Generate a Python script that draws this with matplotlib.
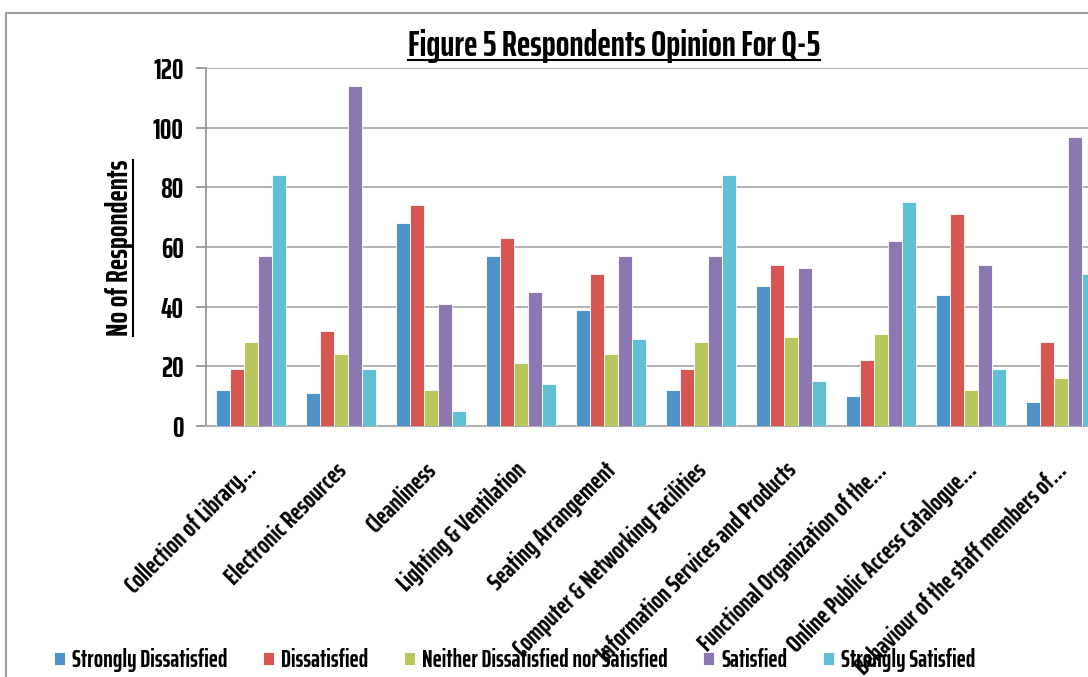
import numpy as np
import matplotlib.pyplot as plt
from matplotlib.patches import Rectangle
from matplotlib.lines import Line2D

plt.rcParams['font.family'] = ['Saira ExtraCondensed', 'DejaVu Sans']
plt.rcParams['font.weight'] = 'bold'

categories = ['Collection of Library...', 'Electronic Resources', 'Cleanliness',
              'Lighting & Ventilation', 'Seating Arrangement',
              'Computer & Networking Facilities', 'Information Services and Products',
              'Functional Organization of the...', 'Online Public Access Catalogue...',
              'Behaviour of the staff members of...']
series_names = ['Strongly Dissatisfied', 'Dissatisfied', 'Neither Dissatisfied nor Satisfied',
                'Satisfied', 'Strongly Satisfied']
strongly_dissatisfied = [12, 11, 68, 57, 39, 12, 47, 10, 44, 8]
dissatisfied = [19, 32, 74, 63, 51, 19, 54, 22, 71, 28]
neither = [28, 24, 12, 21, 24, 28, 30, 31, 12, 16]
satisfied = [57, 114, 41, 45, 57, 57, 53, 62, 54, 97]
strongly_satisfied = [84, 19, 5, 14, 29, 84, 15, 75, 19, 51]
yticks = [0, 20, 40, 60, 80, 100, 120]

colors = ['#4E94C8', '#D85652', '#B8C65C', '#8C78B0', '#60C0D4']
series = [strongly_dissatisfied, dissatisfied, neither, satisfied, strongly_satisfied]

W, H = 1088, 677
fig = plt.figure(figsize=(W / 100, H / 100), dpi=100)

# outer chart border (Excel chart area)
fig.add_artist(Rectangle((6 / W, -0.1), 1.2, 1 - 13 / H + 0.1, transform=fig.transFigure,
                         fill=False, edgecolor='#A0A0A0', linewidth=1.5))

left, right = 206, 1106
top, bottom = 68, 426
ax = fig.add_axes([left / W, 1 - bottom / H, (right - left) / W, (bottom - top) / H])

x = np.arange(len(categories))
bw = 0.155
for i, (vals, c) in enumerate(zip(series, colors)):
    ax.bar(x + (i - 2) * bw, vals, bw, color=c, edgecolor='white', linewidth=0.6,
           label=series_names[i], zorder=3)

ax.set_xlim(-0.5, len(categories) - 0.5)
ax.set_ylim(0, 120)
ax.set_yticks(yticks)
ax.set_yticklabels([str(t) for t in yticks], fontsize=21, fontweight='bold')
ax.yaxis.grid(True, color='#A6A6A6', linewidth=1.2, zorder=0)
ax.tick_params(axis='y', length=7, color='#909090', width=1.2, pad=9)
ax.tick_params(axis='x', length=0, pad=28)
ax.set_xticks(x)
ax.set_xticklabels(categories, rotation=45, ha='right', va='center_baseline',
                   rotation_mode='anchor', fontsize=18.5, fontweight='bold')
for s in ['top', 'right']:
    ax.spines[s].set_visible(False)
ax.spines['left'].set_color('#909090')
ax.spines['bottom'].set_color('#B0B0B0')
ax.spines['left'].set_linewidth(1.2)
ax.spines['bottom'].set_linewidth(1.5)

title = fig.text(614 / W, 1 - 56 / H, 'Figure 5 Respondents Opinion For Q-5',
                 ha='center', va='baseline', fontsize=26, fontweight='bold')
ylab = fig.text(120 / W, 1 - 248 / H, 'No of Respondents', rotation=90,
                ha='center', va='center', fontsize=22, fontweight='bold')

fig.legend(loc='center left', bbox_to_anchor=(42 / W, 1 - 660 / H), ncol=5,
           frameon=False, fontsize=17.5, handlelength=0.45, handleheight=0.45,
           handletextpad=0.3, columnspacing=1.45, borderpad=0)

# underline title and y label
fig.canvas.draw()
r = fig.canvas.get_renderer()
inv = fig.transFigure.inverted()
bb = title.get_window_extent(r)
(x0, y0), (x1, y1) = inv.transform([(bb.x0, bb.y0), (bb.x1, bb.y1)])
fig.add_artist(Line2D([x0, x1], [1 - 60 / H, 1 - 60 / H], transform=fig.transFigure,
                      color='black', linewidth=1.5))
bb = ylab.get_window_extent(r)
(x0, y0), (x1, y1) = inv.transform([(bb.x0, bb.y0), (bb.x1, bb.y1)])
fig.add_artist(Line2D([133 / W, 133 / W], [y0, y1], transform=fig.transFigure,
                      color='black', linewidth=1.5))

fig.savefig('out.png', dpi=100)
